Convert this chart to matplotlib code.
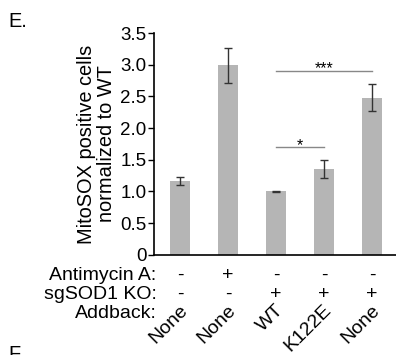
import matplotlib

matplotlib.use("Agg")
import matplotlib.pyplot as plt
import numpy as np

plt.rcParams["font.family"] = ["Liberation Sans", "DejaVu Sans"]

# data
groups = ["None", "None", "WT", "K122E", "None"]
values = [1.17, 2.99, 1.00, 1.36, 2.48]
errors = [0.065, 0.28, 0.01, 0.14, 0.215]
antimycin = ["-", "+", "-", "-", "-"]
sgsod1 = ["-", "-", "+", "+", "+"]
row_names = ["Antimycin A:", "sgSOD1 KO:", "Addback:"]
yticks = [0, 0.5, 1.0, 1.5, 2.0, 2.5, 3.0, 3.5]
ytick_labels = ["0", "0.5", "1.0", "1.5", "2.0", "2.5", "3.0", "3.5"]
# significance brackets: (left bar, right bar, height, label)
brackets = [(2, 4, 2.90, "***"), (2, 3, 1.70, "*")]

FS = 14

fig = plt.figure(figsize=(3.96, 3.55), dpi=100)
ax = fig.add_axes([0.388, 0.282, 0.612, 0.625])
x = np.arange(len(values))
ax.bar(x, values, width=0.4, color="#b5b5b5", zorder=1)
ax.errorbar(x, values, yerr=errors, fmt="none", ecolor="#333333", elinewidth=1, capsize=3, capthick=1, zorder=2)

for left, right, h, label in brackets:
    ax.plot([x[left], x[right]], [h, h], color="#888888", lw=1)
    ax.text((x[left] + x[right]) / 2, h - 0.04, label, ha="center", va="baseline", fontsize=11.5)

ax.set_xlim(-0.55, 4.5)
ax.set_ylim(0, 3.5)
ax.set_yticks(yticks)
ax.set_yticklabels(ytick_labels, fontsize=13.5)
ax.set_xticks([])
ax.spines["top"].set_visible(False)
ax.spines["right"].set_visible(False)
ax.spines["left"].set_linewidth(1.2)
ax.spines["bottom"].set_linewidth(1.2)
ax.tick_params(axis="y", length=4, width=1, pad=1)
ax.set_ylabel("MitoSOX positive cells\nnormalized to WT", fontsize=14.4, labelpad=3, linespacing=1.1)

trans = ax.get_xaxis_transform()
row_y = [-0.113, -0.199, -0.284]
for name, ry in zip(row_names, row_y):
    ax.text(0.012, ry, name, transform=ax.transAxes, ha="right", va="baseline", fontsize=FS)
for i in range(len(values)):
    ax.text(x[i], row_y[0], antimycin[i], transform=trans, ha="center", va="baseline", fontsize=FS)
    ax.text(x[i], row_y[1], sgsod1[i], transform=trans, ha="center", va="baseline", fontsize=FS)
    ax.text(x[i] - 0.02, -0.21, groups[i], transform=trans, ha="right", va="top",
            rotation=45, rotation_mode="anchor", fontsize=FS)

fig.text(0.02, 0.965, "E.", ha="left", va="top", fontsize=14.4)
fig.text(0.022, 0.0, "F.", ha="left", va="center", fontsize=14.4)

fig.savefig("out.png", dpi=100)
